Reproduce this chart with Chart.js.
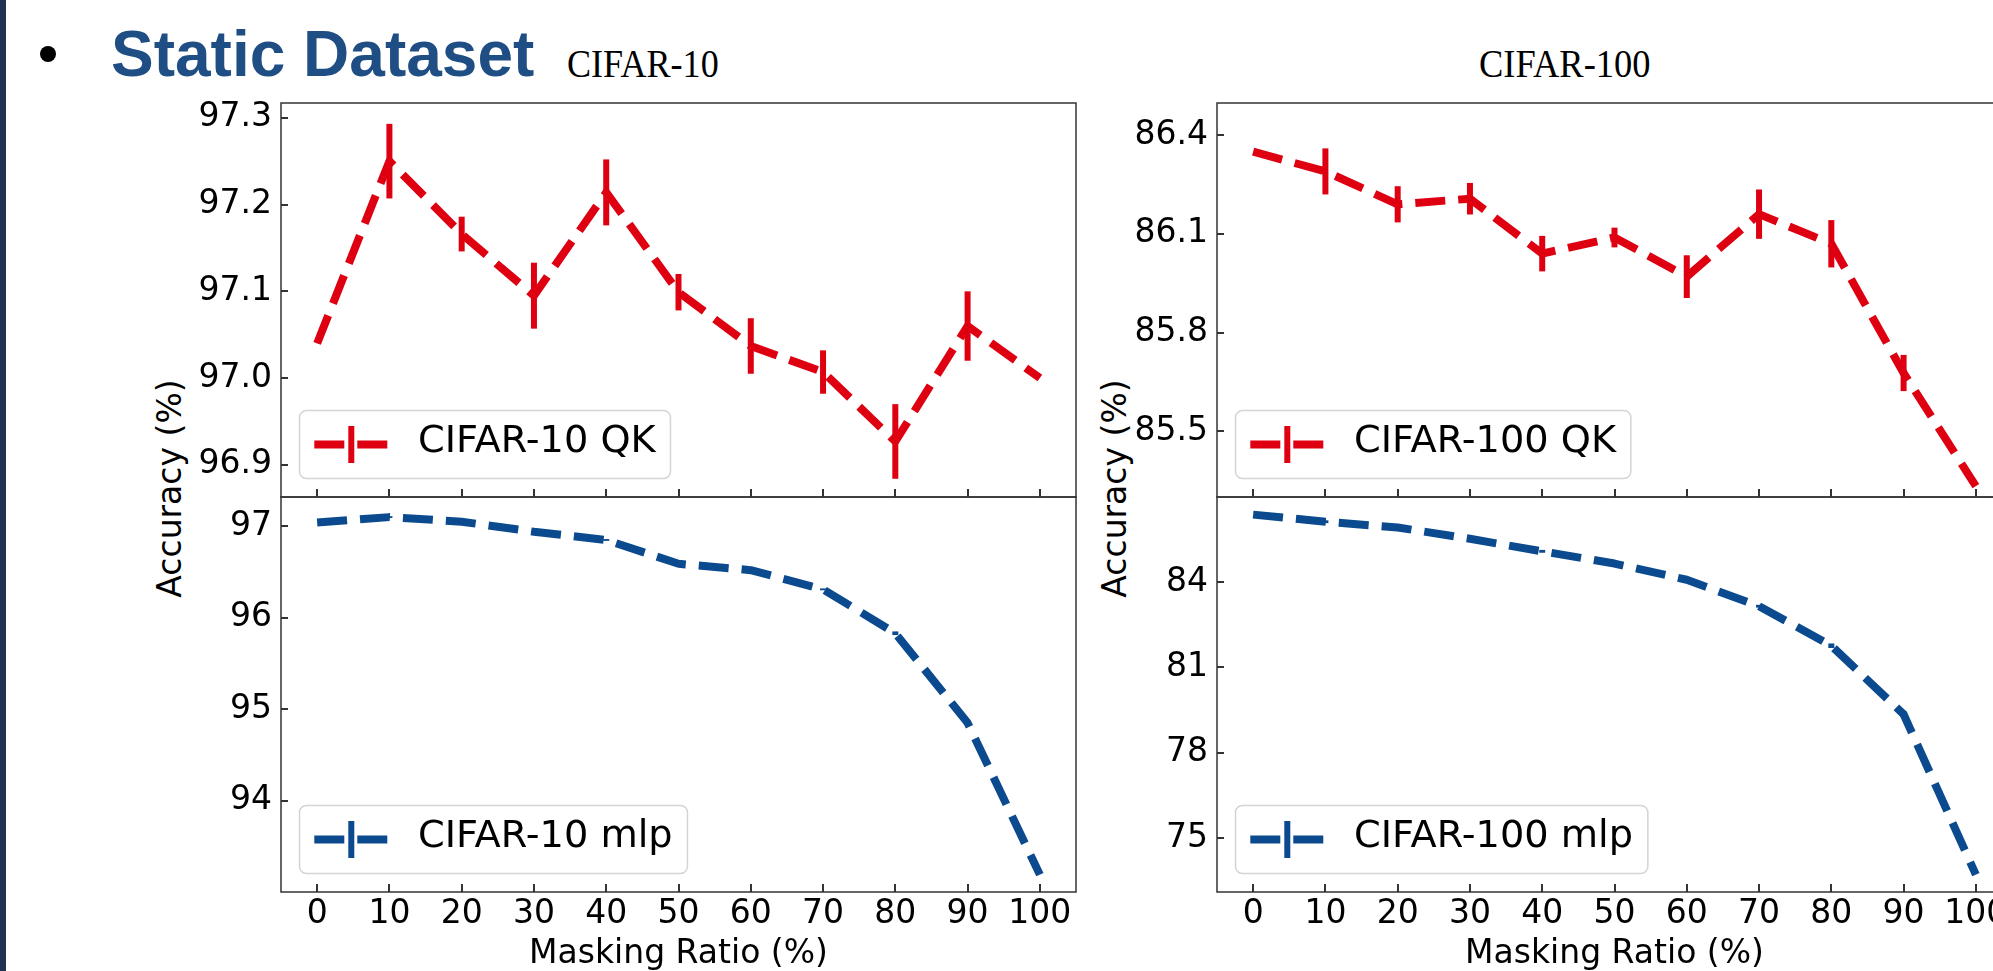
<!DOCTYPE html>
<html>
<head>
<meta charset="utf-8">
<script src="https://cdn.jsdelivr.net/npm/chart.js@4.4.1/dist/chart.umd.min.js"></script>
<style>
  html, body { margin: 0; padding: 0; background: #fff; width: 1993px; height: 971px; overflow: hidden; position: relative; }
  canvas { position: absolute; }
  .t { position: absolute; white-space: nowrap; }
  .ylab { position: absolute; width: 300px; height: 33px; line-height: 33px; text-align: center;
          font: 33px "DejaVu Sans"; color: #000; transform: rotate(-90deg); transform-origin: 50% 50%; }
</style>
</head>
<body>
<div style="position:absolute;left:0;top:0;width:6px;height:971px;background:#1f3451"></div>
<div style="position:absolute;left:40px;top:46px;width:16px;height:16px;border-radius:50%;background:#000"></div>
<div class="t" style="left:111px;top:22px;font:bold 64px 'Liberation Sans';line-height:64px;color:#1f4e85">Static Dataset</div>
<div class="t" style="left:567px;top:44px;font:39px 'Liberation Serif';line-height:39px;color:#000;transform:scaleX(0.925);transform-origin:0 0">CIFAR-10</div>
<div class="t" style="left:1479px;top:44px;font:39px 'Liberation Serif';line-height:39px;color:#000;transform:scaleX(0.935);transform-origin:0 0">CIFAR-100</div>
<div class="ylab" style="left:16px;top:472px">Accuracy (%)</div>
<div class="ylab" style="left:961px;top:472px">Accuracy (%)</div>

<canvas id="ul"></canvas>
<canvas id="ll"></canvas>
<canvas id="ur"></canvas>
<canvas id="lr"></canvas>

<script>
// masking ratio (%) on x
const maskingRatio = [0, 10, 20, 30, 40, 50, 60, 70, 80, 90, 100];
const xTicks = [0, 10, 20, 30, 40, 50, 60, 70, 80, 90, 100];

// CIFAR-10
const c10QkAcc = [97.04, 97.25, 97.166, 97.095, 97.214, 97.099, 97.037, 97.007, 96.927, 97.06, 97.0];
const c10QkErr = [0, 0.043, 0.02, 0.038, 0.038, 0.021, 0.032, 0.025, 0.043, 0.04, 0];
const c10MlpAcc = [97.04, 97.10, 97.05, 96.94, 96.85, 96.59, 96.52, 96.31, 95.83, 94.85, 93.19];
const c10MlpErr = [0, 0.01, 0.01, 0.01, 0.01, 0.02, 0.01, 0.01, 0.02, 0.02, 0];

// CIFAR-100
const c100QkAcc = [86.35, 86.29, 86.19, 86.207, 86.04, 86.089, 85.97, 86.16, 86.07, 85.677, 85.333];
const c100QkErr = [0, 0.07, 0.055, 0.048, 0.054, 0.03, 0.065, 0.075, 0.072, 0.055, 0];
const c100MlpAcc = [86.37, 86.12, 85.92, 85.52, 85.08, 84.65, 84.08, 83.15, 81.76, 79.35, 73.71];
const c100MlpErr = [0, 0.05, 0.05, 0.05, 0.05, 0.05, 0.05, 0.05, 0.08, 0.1, 0];

// y tick labels per subplot
const c10QkTicks = [96.9, 97.0, 97.1, 97.2, 97.3];
const c10MlpTicks = [94, 95, 96, 97];
const c100QkTicks = [85.5, 85.8, 86.1, 86.4];
const c100MlpTicks = [75, 78, 81, 84];

const RED = '#de0010';
const BLUE = '#0b4a8e';

Chart.defaults.font.family = 'DejaVu Sans';
Chart.defaults.color = '#000';

const errorBars = {
  id: 'errorBars',
  afterDatasetsDraw(chart) {
    const ctx = chart.ctx, xs = chart.scales.x, ys = chart.scales.y;
    chart.data.datasets.forEach(ds => {
      ctx.save();
      ctx.strokeStyle = ds.borderColor;
      ctx.lineWidth = 6;
      ds.data.forEach((p, i) => {
        const e = ds.errors[i];
        if (!e) return;
        const px = xs.getPixelForValue(p.x);
        ctx.beginPath();
        ctx.moveTo(px, ys.getPixelForValue(p.y - e));
        ctx.lineTo(px, ys.getPixelForValue(p.y + e));
        ctx.stroke();
      });
      ctx.restore();
    });
  }
};

function drawLegend(chart, ds) {
  const ctx = chart.ctx, a = chart.chartArea, fs = 37, sx = 1.035;
  ctx.save();
  ctx.font = fs + 'px "DejaVu Sans"';
  const tw = ctx.measureText(ds.label).width * sx;
  const pad = 0.4 * fs, hl = 2 * fs, hp = 0.8 * fs, h = 68;
  const w = pad + hl + hp + tw + pad;
  const x0 = a.left + 0.5 * fs, y0 = a.bottom - 0.5 * fs - h;
  ctx.beginPath();
  ctx.roundRect(x0, y0, w, h, 7);
  ctx.fillStyle = 'rgba(255,255,255,0.8)';
  ctx.fill();
  ctx.strokeStyle = '#d4d4d4';
  ctx.lineWidth = 1.5;
  ctx.stroke();
  const cy = y0 + h / 2, hx = x0 + pad;
  ctx.strokeStyle = ds.borderColor;
  ctx.lineWidth = 8;
  ctx.setLineDash([30, 13]);
  ctx.beginPath(); ctx.moveTo(hx, cy); ctx.lineTo(hx + hl, cy); ctx.stroke();
  ctx.setLineDash([]);
  ctx.lineWidth = 6;
  ctx.beginPath(); ctx.moveTo(hx + hl / 2, cy - 18.5); ctx.lineTo(hx + hl / 2, cy + 18.5); ctx.stroke();
  ctx.fillStyle = '#000';
  ctx.textBaseline = 'middle';
  ctx.translate(hx + hl + hp, cy - 2);
  ctx.scale(sx, 1);
  ctx.fillText(ds.label, 0, 0);
  ctx.restore();
}

const frame = {
  id: 'frame',
  afterDraw(chart) {
    const ctx = chart.ctx, a = chart.chartArea, xs = chart.scales.x, ys = chart.scales.y;
    ctx.save();
    ctx.strokeStyle = '#333';
    ctx.lineWidth = 1.5;
    ctx.strokeRect(a.left, a.top, a.right - a.left, a.bottom - a.top);
    ctx.lineWidth = 2;
    xs.ticks.forEach(t => {
      const px = Math.round(xs.getPixelForValue(t.value));
      ctx.beginPath(); ctx.moveTo(px, a.bottom); ctx.lineTo(px, a.bottom - 8); ctx.stroke();
    });
    ys.ticks.forEach(t => {
      const py = Math.round(ys.getPixelForValue(t.value));
      ctx.beginPath(); ctx.moveTo(a.left, py); ctx.lineTo(a.left + 7, py); ctx.stroke();
    });
    ctx.restore();
    drawLegend(chart, chart.data.datasets[0]);
  }
};

function makeChart(id, box, label, acc, err, color, yTicks, yMin, yMax, dec, bottom) {
  const cv = document.getElementById(id);
  const padL = 140, padT = 12, padR = 12;
  const xh = bottom ? 95 : 0, padB = bottom ? 0 : 12;
  cv.width = box.w + padL + padR;
  cv.height = box.h + padT + xh + padB;
  cv.style.left = (box.left - padL) + 'px';
  cv.style.top = (box.top - padT) + 'px';

  return new Chart(cv.getContext('2d'), {
    type: 'line',
    data: {
      datasets: [{
        label: label,
        data: maskingRatio.map((x, i) => ({ x: x, y: acc[i] })),
        errors: err,
        borderColor: color,
        backgroundColor: color,
        borderWidth: 8,
        borderDash: [30, 13],
        borderCapStyle: 'butt',
        borderJoinStyle: 'round',
        pointRadius: 0,
        tension: 0,
        fill: false
      }]
    },
    options: {
      responsive: false,
      animation: false,
      devicePixelRatio: 1,
      layout: { autoPadding: false, padding: { left: 0, top: padT, right: padR, bottom: padB } },
      plugins: { legend: { display: false }, tooltip: { enabled: false } },
      scales: {
        x: {
          type: 'linear', min: -5, max: 105,
          afterBuildTicks: s => { s.ticks = xTicks.map(v => ({ value: v })); },
          afterFit: s => { s.height = xh; s.paddingLeft = 0; s.paddingRight = 0; },
          grid: { display: false, drawTicks: false },
          border: { display: false },
          ticks: { display: bottom, autoSkip: false, maxRotation: 0, padding: 3,
                   font: { size: 33 }, color: '#000', callback: v => String(v) },
          title: { display: bottom, text: 'Masking Ratio (%)', font: { size: 33 }, color: '#000',
                   padding: { top: 0, bottom: 13 } }
        },
        y: {
          type: 'linear', min: yMin, max: yMax,
          afterBuildTicks: s => { s.ticks = yTicks.map(v => ({ value: v })); },
          afterFit: s => { s.width = padL; s.paddingTop = 0; s.paddingBottom = 0; },
          grid: { display: false, drawTicks: false },
          border: { display: false },
          ticks: { padding: 9, font: { size: 33 }, color: '#000', callback: v => v.toFixed(dec) }
        }
      }
    },
    plugins: [errorBars, frame]
  });
}

makeChart('ul', { left: 281, top: 103, w: 795, h: 394 }, 'CIFAR-10 QK', c10QkAcc, c10QkErr, RED,
          c10QkTicks, 96.863, 97.317, 1, false);
makeChart('ll', { left: 281, top: 497, w: 795, h: 395 }, 'CIFAR-10 mlp', c10MlpAcc, c10MlpErr, BLUE,
          c10MlpTicks, 93.0, 97.32, 0, true);
makeChart('ur', { left: 1217, top: 103, w: 795, h: 394 }, 'CIFAR-100 QK', c100QkAcc, c100QkErr, RED,
          c100QkTicks, 85.30, 86.498, 1, false);
makeChart('lr', { left: 1217, top: 497, w: 795, h: 395 }, 'CIFAR-100 mlp', c100MlpAcc, c100MlpErr, BLUE,
          c100MlpTicks, 73.10, 86.99, 0, true);
</script>
</body>
</html>
